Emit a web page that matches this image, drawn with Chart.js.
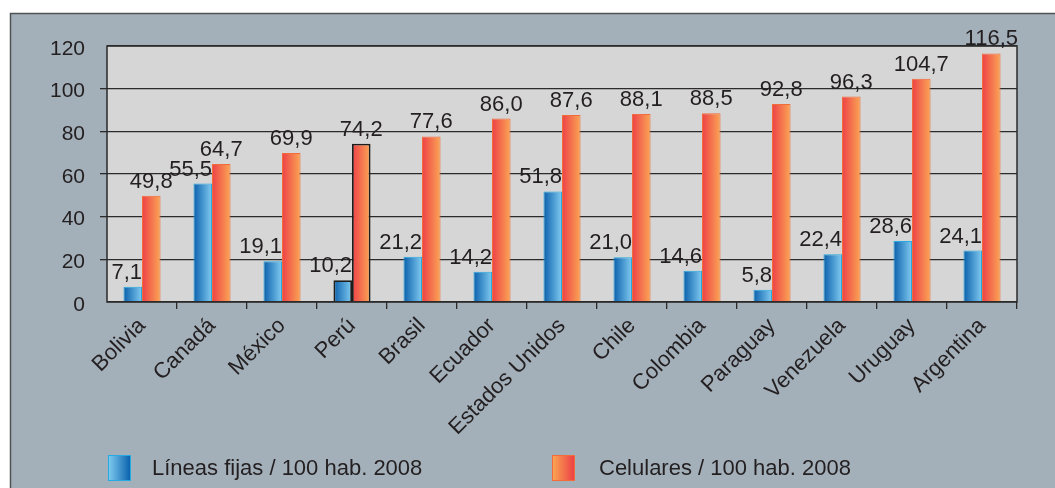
<!DOCTYPE html>
<html lang="es">
<head>
<meta charset="utf-8">
<title>Líneas fijas y celulares por 100 habitantes, 2008</title>
<script src="https://cdn.jsdelivr.net/npm/chart.js@4.4.1/dist/chart.umd.min.js"></script>
<style>
  html, body { margin: 0; padding: 0; background: #fff; }
  #wrap { position: relative; width: 1055px; height: 488px; }
  #chart { position: absolute; left: 0; top: 0; }
  .legend { position: absolute; top: 455px; height: 26px; display: flex; align-items: center;
    font: 22px "Liberation Sans", Arial, sans-serif; color: #231f20; white-space: nowrap; }
  .legend .box { width: 23px; height: 26px; box-sizing: border-box; margin-right: 21px; }
  #leg-fijas { left: 108px; }
  #leg-fijas .box { border: 1px solid #27aae1; background: linear-gradient(to right, #7cc8ee, #0b63ae); }
  #leg-cel { left: 552px; }
  #leg-cel .box { border: 1px solid #f26b3a; background: linear-gradient(to right, #f9a453, #ee4244); margin-right: 24px; }
</style>
</head>
<body>
<div id="wrap">
  <canvas id="chart" width="1055" height="488"></canvas>
  <div class="legend" id="leg-fijas"><span class="box"></span><span>Líneas fijas / 100 hab. 2008</span></div>
  <div class="legend" id="leg-cel"><span class="box"></span><span>Celulares / 100 hab. 2008</span></div>
</div>
<script>
// data
const categories = ['Bolivia', 'Canadá', 'México', 'Perú', 'Brasil', 'Ecuador', 'Estados Unidos',
  'Chile', 'Colombia', 'Paraguay', 'Venezuela', 'Uruguay', 'Argentina'];
const lineasFijas = [7.1, 55.5, 19.1, 10.2, 21.2, 14.2, 51.8, 21.0, 14.6, 5.8, 22.4, 28.6, 24.1];
const celulares = [49.8, 64.7, 69.9, 74.2, 77.6, 86.0, 87.6, 88.1, 88.5, 92.8, 96.3, 104.7, 116.5];
const yTicks = [0, 20, 40, 60, 80, 100, 120];
const highlighted = 'Perú';

const FONT = '"Liberation Sans", Arial, Helvetica, sans-serif';
const TEXT = '#231f20';
const CAT_PCT = 0.53;

const fmt = v => v.toFixed(1).replace('.', ',');

// horizontal gradient across one bar
function barGradient(ctx, dsIndex, from, to) {
  const chart = ctx.chart;
  const x = chart.scales.x;
  if (!chart.chartArea || !x || ctx.dataIndex === undefined) return from;
  const catW = x.width / categories.length;
  const w = catW * CAT_PCT / 2;
  const left = x.getPixelForValue(ctx.dataIndex) - w + dsIndex * w;
  const g = chart.ctx.createLinearGradient(left, 0, left + w, 0);
  g.addColorStop(0, from);
  g.addColorStop(1, to);
  return g;
}

const isHi = ctx => categories[ctx.dataIndex] === highlighted;

// background frame and plot box
const frame = {
  id: 'frame',
  beforeDraw(chart) {
    const c = chart.ctx, a = chart.chartArea;
    c.save();
    c.fillStyle = '#fff';
    c.fillRect(0, 0, chart.width, chart.height);
    c.fillStyle = '#a3afb9';
    c.fillRect(10, 13, chart.width - 10, chart.height - 13);
    c.strokeStyle = '#4f5356';
    c.lineWidth = 1.5;
    c.beginPath();
    c.moveTo(10.5, chart.height);
    c.lineTo(10.5, 13.5);
    c.lineTo(chart.width, 13.5);
    c.stroke();
    c.fillStyle = '#d6d6d6';
    c.fillRect(a.left, a.top, a.right - a.left, a.bottom - a.top);
    c.restore();
  },
  afterDatasetsDraw(chart) {
    const c = chart.ctx, a = chart.chartArea;
    c.save();
    c.strokeStyle = '#2b2b2b';
    c.lineWidth = 1.5;
    c.strokeRect(a.left, a.top, a.right - a.left, a.bottom - a.top);
    c.restore();
  }
};

// value labels above the bars
const valueLabels = {
  id: 'valueLabels',
  afterDatasetsDraw(chart) {
    const c = chart.ctx;
    c.save();
    c.font = '22px ' + FONT;
    c.fillStyle = TEXT;
    c.textBaseline = 'alphabetic';
    chart.data.datasets.forEach((ds, di) => {
      chart.getDatasetMeta(di).data.forEach((bar, i) => {
        const txt = fmt(ds.data[i]);
        if (di === 0) {
          c.textAlign = 'right';
          c.fillText(txt, bar.x + bar.width / 2, bar.y - 8);
        } else {
          c.textAlign = 'center';
          c.fillText(txt, bar.x, bar.y - 8);
        }
      });
    });
    c.restore();
  }
};

new Chart(document.getElementById('chart'), {
  type: 'bar',
  data: {
    labels: categories,
    datasets: [
      {
        label: 'Líneas fijas / 100 hab. 2008',
        data: lineasFijas,
        backgroundColor: ctx => barGradient(ctx, 0, '#0a5fab', '#80cbf1'),
        borderColor: ctx => isHi(ctx) ? '#1d1d1b' : '#27aae1',
        borderWidth: ctx => isHi(ctx) ? 1.8 : 1,
        categoryPercentage: CAT_PCT,
        barPercentage: 1
      },
      {
        label: 'Celulares / 100 hab. 2008',
        data: celulares,
        backgroundColor: ctx => barGradient(ctx, 1, '#ee4046', '#faa655'),
        borderColor: ctx => isHi(ctx) ? '#1d1d1b' : '#f26b3a',
        borderWidth: ctx => isHi(ctx) ? 1.8 : 1,
        categoryPercentage: CAT_PCT,
        barPercentage: 1
      }
    ]
  },
  options: {
    responsive: false,
    animation: false,
    devicePixelRatio: 1,
    layout: { padding: { left: 10, right: 38, top: 46, bottom: 0 } },
    plugins: {
      legend: { display: false },
      tooltip: { enabled: false }
    },
    scales: {
      x: {
        grid: {
          drawOnChartArea: false,
          drawTicks: true,
          tickLength: 7,
          lineWidth: 1.3,
          tickColor: ctx => (ctx.index === 0 || ctx.index === categories.length) ? 'rgba(0,0,0,0)' : '#2b2b2b'
        },
        border: { display: false },
        ticks: {
          color: TEXT,
          font: { family: FONT, size: 22 },
          maxRotation: 45,
          minRotation: 45,
          autoSkip: false,
          padding: 4
        },
        afterFit(scale) { scale.height = 186; }
      },
      y: {
        min: 0,
        max: 120,
        afterBuildTicks(scale) { scale.ticks = yTicks.map(v => ({ value: v })); },
        grid: {
          color: '#2b2b2b',
          lineWidth: 1.3,
          tickLength: 7,
          tickColor: ctx => (ctx.index === 0 || ctx.index === yTicks.length - 1) ? 'rgba(0,0,0,0)' : '#2b2b2b'
        },
        border: { display: false },
        ticks: {
          color: TEXT,
          font: { family: FONT, size: 21 },
          padding: 15,
          labelOffset: 3
        },
        afterFit(scale) { scale.width = 97; }
      }
    }
  },
  plugins: [frame, valueLabels]
});
</script>
</body>
</html>
